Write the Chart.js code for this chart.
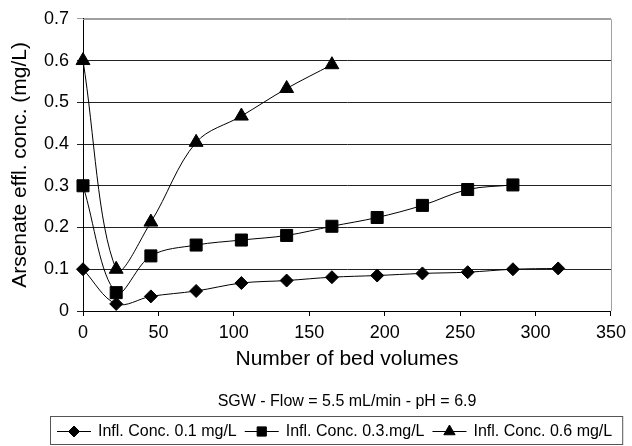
<!DOCTYPE html>
<html>
<head>
<meta charset="utf-8">
<script src="https://cdn.jsdelivr.net/npm/chart.js@4"></script>
<style>
  html, body { margin: 0; padding: 0; background: #fff; }
  #wrap { width: 632px; height: 446px; position: relative; }
</style>
</head>
<body>
<div id="wrap"><canvas id="arsenicChart"></canvas></div>
<script>
// bed volumes sampled for each influent concentration
const bedVolumesLow = [0, 22, 45, 75, 105, 135, 165, 195, 225, 255, 285, 315];
const bedVolumesMid = [0, 22, 45, 75, 105, 135, 165, 195, 225, 255, 285];
const bedVolumesHigh = [0, 22, 45, 75, 105, 135, 165];

// effluent arsenate (mg/L)
const effluentLow = [0.1, 0.017, 0.035, 0.048, 0.067, 0.073, 0.081, 0.085, 0.09, 0.093, 0.1, 0.102];
const effluentMid = [0.3, 0.044, 0.132, 0.158, 0.17, 0.181, 0.203, 0.224, 0.253, 0.291, 0.302];
const effluentHigh = [0.6, 0.1, 0.213, 0.404, 0.467, 0.533, 0.59];

const seriesLabels = ['Infl. Conc. 0.1 mg/L', 'Infl. Conc. 0.3.mg/L', 'Infl. Conc. 0.6 mg/L'];
const subtitleText = 'SGW - Flow = 5.5 mL/min - pH = 6.9';

const FONT = "'Liberation Sans', Arial, sans-serif";

function toPoints(xs, ys) {
    return xs.map((x, i) => ({ x: x, y: ys[i] }));
}

function makeSeries(label, xs, ys, style, radius) {
    return {
        label: label,
        data: toPoints(xs, ys),
        showLine: true,
        clip: false,
        borderColor: '#000',
        borderWidth: 1,
        backgroundColor: '#000',
        tension: 0.35,
        pointStyle: style,
        pointRadius: radius,
        pointHoverRadius: radius,
        pointBackgroundColor: '#000',
        pointBorderColor: '#000',
        pointBorderWidth: 1
    };
}

// gray frame on top/right, plus the subtitle and the boxed legend underneath
const frameAndLegend = {
    id: 'frameAndLegend',
    beforeDatasetsDraw(chart) {
        const ctx = chart.ctx;
        const area = chart.chartArea;
        ctx.save();
        ctx.strokeStyle = '#a0a0a0';
        ctx.lineWidth = 1;
        ctx.beginPath();
        ctx.moveTo(area.left, Math.round(area.top) + 0.5);
        ctx.lineTo(Math.round(area.right) + 0.5, Math.round(area.top) + 0.5);
        ctx.lineTo(Math.round(area.right) + 0.5, area.bottom);
        ctx.stroke();
        ctx.restore();
    },
    afterDraw(chart) {
        const ctx = chart.ctx;
        ctx.save();

        ctx.fillStyle = '#000';
        ctx.font = '16px ' + FONT;
        ctx.textAlign = 'center';
        ctx.textBaseline = 'middle';
        ctx.fillText(subtitleText, 347, 402);

        // legend
        const boxLeft = 50, boxTop = 416, boxBottom = 444;
        const rowY = 431;
        const lineLen = 34, textGap = 7, itemGap = 8;
        ctx.font = '16px ' + FONT;
        ctx.textAlign = 'left';
        let x = boxLeft + 7;
        const markSize = [5.5, 6.5, 6.5];
        chart.data.datasets.forEach((ds, i) => {
            ctx.strokeStyle = '#000';
            ctx.lineWidth = 1;
            ctx.beginPath();
            ctx.moveTo(x, rowY + 0.5);
            ctx.lineTo(x + lineLen, rowY + 0.5);
            ctx.stroke();
            ctx.fillStyle = '#000';
            Chart.helpers.drawPoint(ctx, {
                pointStyle: ds.pointStyle,
                radius: markSize[i],
                rotation: 0,
                borderWidth: 1
            }, x + lineLen / 2, rowY + 0.5);
            x += lineLen + textGap;
            ctx.fillStyle = '#000';
            ctx.fillText(ds.label, x, rowY + 1);
            x += ctx.measureText(ds.label).width + itemGap;
        });
        const boxRight = Math.min(x + 2, chart.width - 3);
        ctx.strokeStyle = '#555';
        ctx.lineWidth = 1;
        ctx.strokeRect(boxLeft + 0.5, boxTop + 0.5, boxRight - boxLeft, boxBottom - boxTop);

        ctx.restore();
    }
};

Chart.defaults.font.family = FONT;
Chart.defaults.color = '#000';

const ctx = document.getElementById('arsenicChart').getContext('2d');
new Chart(ctx, {
    type: 'scatter',
    data: {
        datasets: [
            makeSeries(seriesLabels[0], bedVolumesLow, effluentLow, 'rectRot', 6.5),
            makeSeries(seriesLabels[1], bedVolumesMid, effluentMid, 'rect', 8.5),
            makeSeries(seriesLabels[2], bedVolumesHigh, effluentHigh, 'triangle', 8)
        ]
    },
    options: {
        responsive: true,
        maintainAspectRatio: false,
        animation: false,
        layout: { padding: { left: 0, right: 16, top: 15, bottom: 74 } },
        plugins: {
            legend: { display: false },
            tooltip: { enabled: false }
        },
        scales: {
            x: {
                type: 'linear',
                min: 0,
                max: 350,
                afterFit(scale) { scale.height = 61; },
                ticks: { stepSize: 50, padding: 6, font: { size: 18 }, maxRotation: 0 },
                grid: {
                    drawOnChartArea: false,
                    drawTicks: true,
                    tickLength: 5,
                    color: '#000'
                },
                border: { color: '#000', width: 1 },
                title: {
                    display: true,
                    text: 'Number of bed volumes',
                    font: { size: 21 },
                    padding: { top: 0, bottom: 0 }
                }
            },
            y: {
                min: 0,
                max: 0.7,
                afterFit(scale) { scale.width = 83; },
                ticks: { stepSize: 0.1, padding: 8, font: { size: 18 } },
                grid: {
                    color: ctx => ctx.tick && ctx.tick.value >= 0.7 ? '#a0a0a0' : '#222',
                    tickLength: 6,
                    lineWidth: 1
                },
                border: { color: '#000', width: 1 },
                title: {
                    display: true,
                    text: 'Arsenate effl. conc. (mg/L)',
                    font: { size: 21 },
                    padding: { top: 8, bottom: 0 }
                }
            }
        }
    },
    plugins: [frameAndLegend]
});
</script>
</body>
</html>
